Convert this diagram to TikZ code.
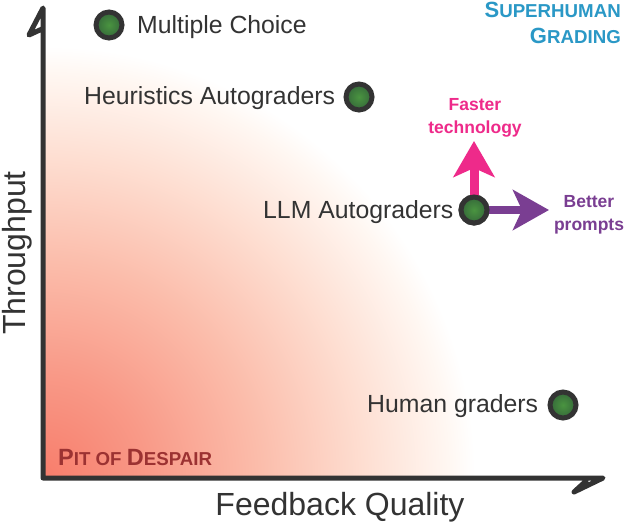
\documentclass[tikz,border=0pt]{standalone}
\usepackage{fontspec}
\setmainfont{Liberation Sans}
\usetikzlibrary{arrows.meta}
\definecolor{axisdark}{HTML}{333333}
\definecolor{dotgreen}{HTML}{4A9440}
\definecolor{dotdark}{HTML}{35693A}
\definecolor{hotpink}{HTML}{EE2A8A}
\definecolor{plum}{HTML}{7A3E92}
\definecolor{skyb}{HTML}{2A98C6}
\definecolor{pitred}{HTML}{9C3232}
\definecolor{pa}{rgb}{0.97,0.49,0.42}
\definecolor{pb}{rgb}{0.975,0.60,0.53}
\definecolor{pc}{rgb}{0.985,0.74,0.67}
\definecolor{pd}{rgb}{0.995,0.87,0.82}
\definecolor{pe}{rgb}{1,0.97,0.95}
\definecolor{pf}{rgb}{1,1,1}
\pgfdeclareradialshading{pitglow}{\pgfpoint{0bp}{0bp}}{%
 color(0bp)=(pa);
 color(6bp)=(pb);
 color(12.5bp)=(pc);
 color(18.5bp)=(pd);
 color(23.5bp)=(pe);
 color(25bp)=(pf);
 color(50bp)=(pf)}
\newcommand{\SmC}[2]{{\fontsize{22}{22}\selectfont #1}{\fontsize{18.7}{18.7}\selectfont #2}}
\newcommand{\SmD}[2]{{\fontsize{23.5}{23.5}\selectfont #1}{\fontsize{18.7}{18.7}\selectfont #2}}
\tikzset{
  x=1pt,y=-1pt,
  dot/.style={circle,draw=axisdark,line width=5pt,shade,inner color=dotgreen,outer color=dotdark,minimum size=26pt,inner sep=0pt},
  lab/.style={text=axisdark,font=\fontsize{24.8}{24.8}\selectfont,inner sep=0pt},
  axislab/.style={text=axisdark,font=\fontsize{32}{32}\selectfont,inner sep=0pt},
  axisline/.style={draw=axisdark,line width=5pt,line join=round,line cap=round},
  gradeup/.style={hotpink,line width=9pt,-{Stealth[length=36pt,width=41pt,inset=9pt]}},
  gradeside/.style={plum,line width=8pt,-{Stealth[length=36pt,width=40pt,inset=9pt]}},
  note/.style={font=\bfseries\fontsize{17.5}{23}\selectfont,align=center,inner sep=0pt},
}
\begin{document}
\begin{tikzpicture}
\useasboundingbox (0,0) rectangle (626,522);
\fill[white] (0,0) rectangle (626,522);
\begin{scope}
  \clip (43,0) rectangle (626,478);
  \shade[shading=pitglow] (43,478) circle[radius=432];
\end{scope}
\coordinate (ytop) at (43,8);
\coordinate (yleft) at (29,35);
\coordinate (yin) at (42,29);
\coordinate (origin) at (43,478);
\coordinate (xtip) at (603,478);
\coordinate (xlow) at (574,492);
\coordinate (xin) at (586,481);
\draw[axisline] (yin) -- (yleft) -- (ytop) -- (origin) -- (xtip) -- (xlow) -- (xin);

\node[dot] (mc) at (109,25) {};
\node[dot] (heur) at (359,97) {};
\node[dot] (llm) at (474,210) {};
\node[dot] (human) at (563,405) {};

\coordinate (fasttip) at (475,141);
\coordinate (bettip) at (549,211);
\draw[gradeup] (llm.center) -- (llm.center |- fasttip);
\draw[gradeside] (llm.center) -- (llm.center -| bettip);
\node[dot] at (llm.center) {};

\node[lab,anchor=base west] (mct) at (137,33) {Multiple Choice};
\node[lab,anchor=base west] (heurt) at (84,104) {Heuristics Autograders};
\node[lab,anchor=base west] (llmt) at (263,218) {LLM Autograders};
\node[lab,anchor=base west] (humant) at (367,412) {Human graders};

\node[axislab,rotate=90,anchor=base] (ylab) at (25,253) {Throughput};
\node[axislab,anchor=base] (xlab) at (340,515) {Feedback Quality};

\node[note,text=hotpink] (fast) at (475,118) {Faster\\technology};
\node[note,text=plum] (bet) at (589,214.5) {Better\\prompts};

\node[anchor=base east,inner sep=0pt,text=skyb,font=\bfseries] (sh1) at (621,17.5) {\SmC{S}{UPERHUMAN}};
\node[anchor=base east,inner sep=0pt,text=skyb,font=\bfseries] (sh2) at (621,43.5) {\SmC{G}{RADING}};
\node[anchor=base west,inner sep=0pt,text=pitred,font=\bfseries] (pit) at (58,465) {\SmD{P}{IT OF }\SmD{D}{ESPAIR}};
\end{tikzpicture}
\end{document}
